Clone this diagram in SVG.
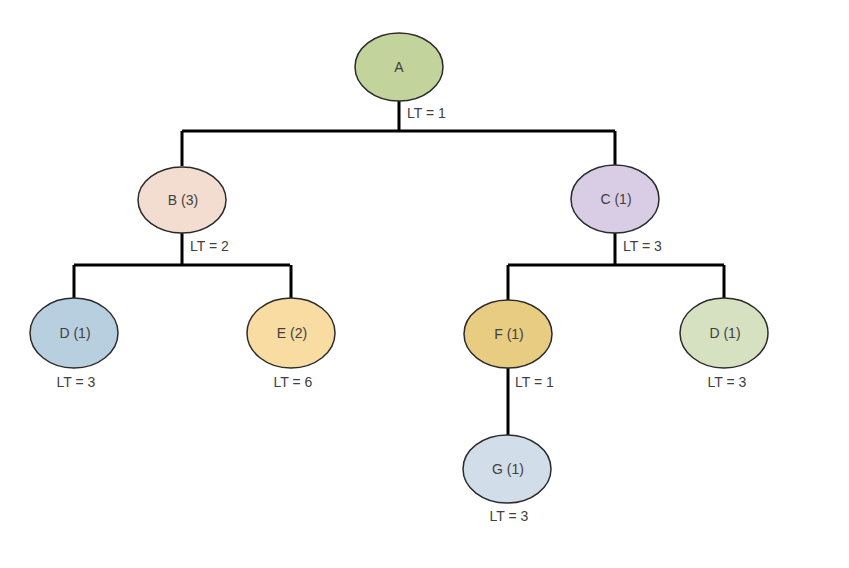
<svg xmlns="http://www.w3.org/2000/svg" width="849" height="568" viewBox="0 0 849 568">
<style>
.n{stroke:#2b2b2b;stroke-width:1.5}
.t{font-family:"Liberation Sans",Arial,sans-serif;font-size:14px;fill:#404040;text-anchor:middle}
.l{font-family:"Liberation Sans",Arial,sans-serif;font-size:14px;fill:#404040}
.c{stroke:#000;stroke-width:3;fill:none}
</style>
<rect width="849" height="568" fill="#fff"/>
<g id="connectors">
<path class="c" d="M399 101V131M182 131H615M182 131V166M615 131V165"/>
<path class="c" d="M182 233V265M74 265H290M74 265V298M291 265V298"/>
<path class="c" d="M615 233V265M508 265H724M508 265V300M724 265V298"/>
<path class="c" d="M508 368V435"/>
</g>
<g id="A"><ellipse class="n" cx="399" cy="67" rx="44" ry="34" fill="#c2d39c"/><text class="t" x="399" y="72">A</text><text class="l" x="407" y="118">LT = 1</text></g>
<g id="B"><ellipse class="n" cx="182" cy="200" rx="44" ry="33" fill="#f3ddd1"/><text class="t" x="183" y="205">B (3)</text><text class="l" x="190" y="251">LT = 2</text></g>
<g id="C"><ellipse class="n" cx="615" cy="199" rx="44" ry="34" fill="#d9cde6"/><text class="t" x="616" y="204">C (1)</text><text class="l" x="623" y="251">LT = 3</text></g>
<g id="D1"><ellipse class="n" cx="74" cy="333" rx="44" ry="35" fill="#b8cfdf"/><text class="t" x="75" y="338">D (1)</text><text class="t" x="76" y="387">LT = 3</text></g>
<g id="E"><ellipse class="n" cx="291" cy="333" rx="44" ry="35" fill="#f8dca2"/><text class="t" x="292" y="338">E (2)</text><text class="t" x="293" y="387">LT = 6</text></g>
<g id="F"><ellipse class="n" cx="508" cy="334" rx="44" ry="34" fill="#e8cc82"/><text class="t" x="509" y="339">F (1)</text><text class="l" x="515" y="387">LT = 1</text></g>
<g id="D2"><ellipse class="n" cx="724" cy="333" rx="44" ry="35" fill="#d5e1c0"/><text class="t" x="725" y="338">D (1)</text><text class="t" x="727" y="387">LT = 3</text></g>
<g id="G"><ellipse class="n" cx="507" cy="469" rx="44" ry="34" fill="#d1dde8"/><text class="t" x="508" y="474">G (1)</text><text class="t" x="509" y="521">LT = 3</text></g>
</svg>
